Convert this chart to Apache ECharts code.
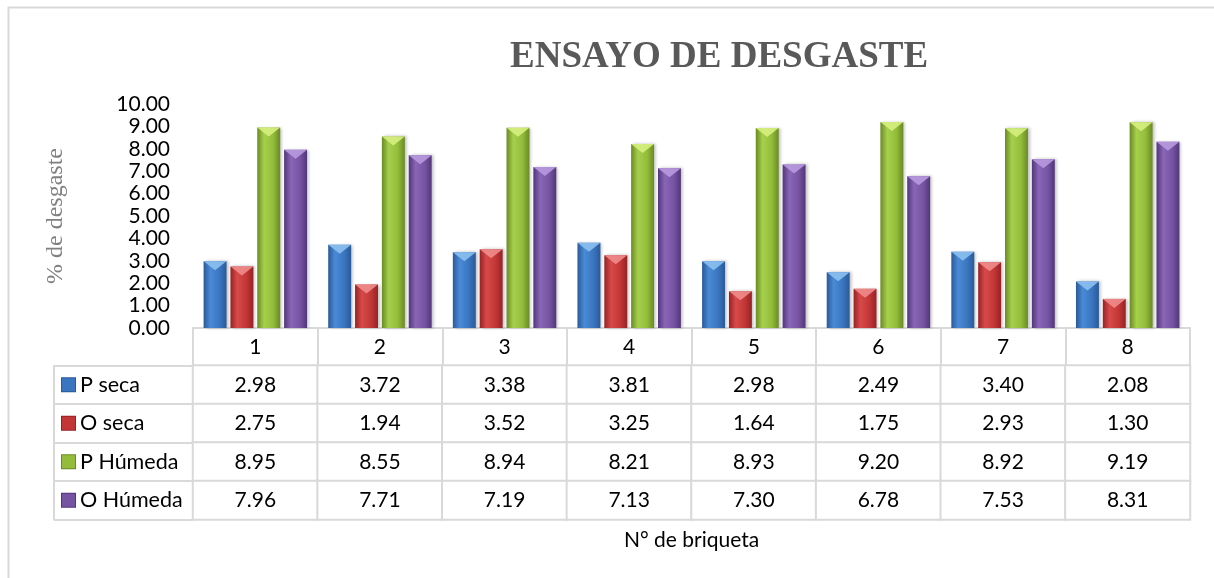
<!DOCTYPE html>
<html>
<head>
<meta charset="utf-8">
<script src="https://cdn.jsdelivr.net/npm/echarts@6/dist/echarts.min.js"></script>
<style>
  html, body { margin: 0; padding: 0; background: #fff; }
  #chart { width: 1214px; height: 578px; }
</style>
</head>
<body>
<div id="chart"></div>
<script>
const categories = ['1', '2', '3', '4', '5', '6', '7', '8']
const seriesNames = ['P seca', 'O seca', 'P Húmeda', 'O Húmeda']
const pSeca = [2.98, 3.72, 3.38, 3.81, 2.98, 2.49, 3.40, 2.08]
const oSeca = [2.75, 1.94, 3.52, 3.25, 1.64, 1.75, 2.93, 1.30]
const pHumeda = [8.95, 8.55, 8.94, 8.21, 8.93, 9.20, 8.92, 9.19]
const oHumeda = [7.96, 7.71, 7.19, 7.13, 7.30, 6.78, 7.53, 8.31]
const yTicks = { min: 0, max: 10, interval: 1 }

const allValues = [pSeca, oSeca, pHumeda, oHumeda]

// dark edge, light centre, mid, bevel top
const palette = [
  { dark: '#2a5a98', light: '#4a8ad6', mid: '#3a75bf', top: '#8cc0f0' },
  { dark: '#962224', light: '#d84a4a', mid: '#c23636', top: '#f08c8c' },
  { dark: '#6a8a24', light: '#a6d04c', mid: '#92bc3a', top: '#d6f080' },
  { dark: '#52367a', light: '#8a66b6', mid: '#7654a2', top: '#b89ae0' },
]

const GRID_LEFT = 193
const GRID_RIGHT = 24
const FONT = 'Lato, "Open Sans", sans-serif'
const SERIF = 'Liberation Serif'
const BORDER = '#d9d9d9'

const chart = echarts.init(document.getElementById('chart'))

const barGradient = (c) =>
  new echarts.graphic.LinearGradient(0, 0, 1, 0, [
    { offset: 0, color: c.dark },
    { offset: 0.3, color: c.light },
    { offset: 0.7, color: c.mid },
    { offset: 1, color: c.dark },
  ])

const barSeries = allValues.map((values, i) => ({
  name: seriesNames[i],
  type: 'bar',
  xAxisIndex: 0,
  yAxisIndex: 0,
  data: values,
  barGap: '17%',
  barCategoryGap: '17%',
  itemStyle: {
    color: barGradient(palette[i]),
    shadowColor: 'rgba(0,0,0,0.25)',
    shadowBlur: 3,
    shadowOffsetX: 2,
  },
  emphasis: { disabled: true },
}))

// light triangle bevel at the top of each bar
const bevelSeries = allValues.map((values, i) => ({
  name: seriesNames[i] + ' top',
  type: 'pictorialBar',
  xAxisIndex: 0,
  yAxisIndex: 0,
  data: values,
  barGap: '17%',
  barCategoryGap: '17%',
  symbol: 'triangle',
  symbolRotate: 180,
  symbolSize: ['100%', 9],
  symbolPosition: 'end',
  symbolOffset: [0, 0],
  itemStyle: { color: palette[i].top, opacity: 0.9 },
  silent: true,
  z: 3,
}))

const tableData = []
allValues.forEach((values, row) => {
  values.forEach((v, col) => tableData.push([col, row, v]))
})

const legendRich = { t: { fontFamily: FONT, fontSize: 21.5, color: '#000', padding: [0, 0, 0, 5] } }
palette.forEach((c, i) => {
  legendRich['i' + i] = {
    width: 13,
    height: 13,
    backgroundColor: c.mid,
    borderColor: c.dark,
    borderWidth: 1,
  }
})

chart.setOption({
  animation: false,
  backgroundColor: '#fff',
  title: {
    text: 'ENSAYO DE DESGASTE',
    left: 505,
    top: 34,
    textStyle: {
      fontFamily: SERIF,
      fontWeight: 'bold',
      fontSize: 37,
      color: '#595959',
    },
  },
  graphic: [
    {
      type: 'rect',
      shape: { x: 8.5, y: 7.5, width: 1220, height: 600 },
      style: { fill: 'none', stroke: BORDER, lineWidth: 2 },
      silent: true,
    },
  ],
  grid: [
    { left: GRID_LEFT, right: GRID_RIGHT, top: 104, bottom: 250 },
    { left: GRID_LEFT, right: GRID_RIGHT, top: 365.5, bottom: 58.5 },
  ],
  xAxis: [
    {
      gridIndex: 0,
      type: 'category',
      data: categories,
      axisLine: { lineStyle: { color: BORDER, width: 2 } },
      axisTick: { show: true, interval: 0, length: 37, lineStyle: { color: BORDER, width: 2 } },
      axisLabel: { interval: 0, margin: 9, fontFamily: FONT, fontSize: 21, color: '#000' },
    },
    {
      gridIndex: 1,
      type: 'category',
      data: categories,
      axisLine: { show: false },
      axisTick: { show: false },
      axisLabel: { show: false },
      name: 'N° de briqueta',
      nameLocation: 'middle',
      nameGap: 10,
      nameTextStyle: { fontFamily: FONT, fontSize: 21, color: '#000', verticalAlign: 'top' },
    },
  ],
  yAxis: [
    {
      gridIndex: 0,
      type: 'value',
      min: yTicks.min,
      max: yTicks.max,
      interval: yTicks.interval,
      axisLine: { show: false },
      axisTick: { show: false },
      splitLine: { show: false },
      axisLabel: {
        margin: 23,
        fontFamily: FONT,
        fontSize: 21,
        color: '#000',
        formatter: (v) => v.toFixed(2),
      },
      name: '% de desgaste',
      nameLocation: 'middle',
      nameGap: 125,
      nameTextStyle: {
        fontFamily: SERIF,
        fontSize: 24,
        color: '#808080',
      },
    },
    {
      gridIndex: 1,
      type: 'category',
      data: seriesNames,
      inverse: true,
      offset: 139,
      axisLine: { show: true, lineStyle: { color: BORDER, width: 2 } },
      axisTick: { show: true, inside: true, interval: 0, length: 139, lineStyle: { color: BORDER, width: 2 } },
      axisLabel: {
        inside: true,
        margin: 8,
        interval: 0,
        formatter: (value, index) => `{i${index}|}{t|${value}}`,
        rich: legendRich,
      },
    },
  ],
  series: [
    ...barSeries,
    ...bevelSeries,
    {
      type: 'heatmap',
      xAxisIndex: 1,
      yAxisIndex: 1,
      data: tableData,
      itemStyle: { color: '#fff', borderColor: BORDER, borderWidth: 2 },
      label: {
        show: true,
        fontFamily: FONT,
        fontSize: 21,
        color: '#000',
        formatter: (p) => p.value[2].toFixed(2),
      },
      emphasis: { disabled: true },
    },
  ],
})
</script>
</body>
</html>
